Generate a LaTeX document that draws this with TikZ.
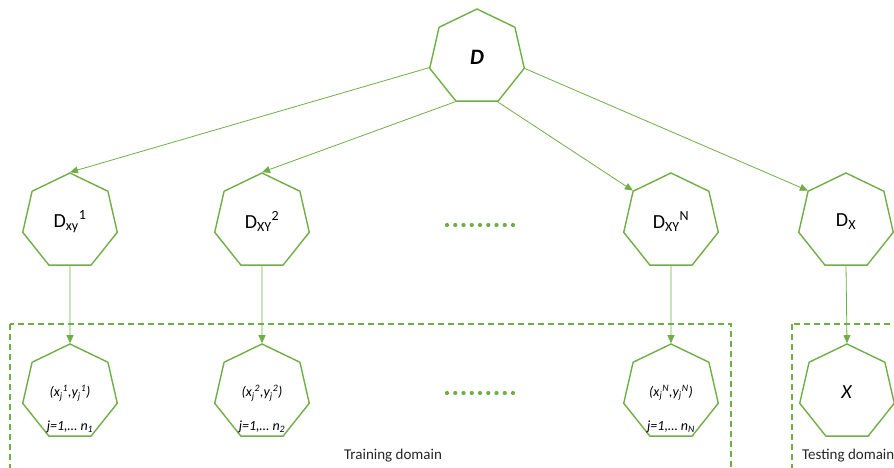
\documentclass[tikz,border=0pt]{standalone}
\usepackage{fontspec}
\setmainfont{Carlito}
\usetikzlibrary{shapes.geometric,arrows.meta}
\definecolor{ogreen}{HTML}{70AD47}
\definecolor{txtcol}{HTML}{262626}
\tikzset{
  hept/.style={regular polygon, regular polygon sides=7, draw=ogreen, line width=1.4pt,
    minimum size=97pt, inner sep=0pt, text=black, font=\fontsize{20}{22}\selectfont},
  conn/.style={draw=ogreen, line width=0.8pt, -{Triangle[length=8pt,width=7pt]}},
  domainbox/.style={draw=ogreen, line width=1.3pt, dash pattern=on 6pt off 4pt},
  smalltext/.style={font=\fontsize{14}{16}\selectfont\itshape, inner sep=0pt},
  domlabel/.style={font=\fontsize{15}{17}\selectfont, text=txtcol, inner sep=0pt},
  dotcol/.style={fill=ogreen, draw=none}
}
\begin{document}
\begin{tikzpicture}[x=1pt,y=-1pt]
\useasboundingbox (0,0) rectangle (894,468);
\clip (0,0) rectangle (894,468);
% domain boxes
\draw[domainbox] (10,324) rectangle (731,480);
\draw[domainbox] (792,324) rectangle (910,480);
\node[domlabel] (trainlbl) at (393,456) {Training domain};
\node[domlabel, anchor=west] (testlbl) at (802,456) {Testing domain};
% top
\node[hept, font=\fontsize{22}{24}\selectfont] (D) at (477,57.5) {\textbf{\textit{D}}};
% middle row
\node[hept] (M1) at (70,221.5) {D\textsubscript{xy}\textsuperscript{1}};
\node[hept] (M2) at (262,221.5) {D\textsubscript{XY}\textsuperscript{2}};
\node[hept] (MN) at (671,221.5) {D\textsubscript{XY}\textsuperscript{N}};
\node[hept] (MX) at (846,221.5) {D\textsubscript{X}};
% bottom row
\node[hept] (B1) at (70,392.5) {};
\node[hept] (B2) at (262,392.5) {};
\node[hept] (BN) at (671,392.5) {};
\node[hept] (BX) at (847,392.5) {\textit{X}};
\node[smalltext] (t1a) at (70,393) {(x\textsubscript{j}\textsuperscript{1},y\textsubscript{j}\textsuperscript{1})};
\node[smalltext] (t1b) at (70,427) {j=1,… n\textsubscript{1}};
\node[smalltext] (t2a) at (262,393) {(x\textsubscript{j}\textsuperscript{2},y\textsubscript{j}\textsuperscript{2})};
\node[smalltext] (t2b) at (262,427) {j=1,… n\textsubscript{2}};
\node[smalltext] (tNa) at (671,393) {(x\textsubscript{j}\textsuperscript{N},y\textsubscript{j}\textsuperscript{N})};
\node[smalltext] (tNb) at (671,427) {j=1,… n\textsubscript{N}};
% connectors
\draw[conn] (D.192.86) -- (M1.north);
\draw[conn] (D.244.29) -- (M2.north);
\draw[conn] (D.295.71) -- (MN.141.43);
\draw[conn] (D.347.14) -- (MX.141.43);
\draw[conn] (M1.south) -- (B1.north);
\draw[conn] (M2.south) -- (B2.north);
\draw[conn] (MN.south) -- (BN.north);
\draw[conn] (MX.south) -- (BX.north);
% dots
\foreach \i in {0,...,8} {
  \fill[dotcol] (447+8.25*\i,225) circle (2.1pt);
  \fill[dotcol] (447+8.25*\i,393) circle (2.1pt);
}
\end{tikzpicture}
\end{document}
